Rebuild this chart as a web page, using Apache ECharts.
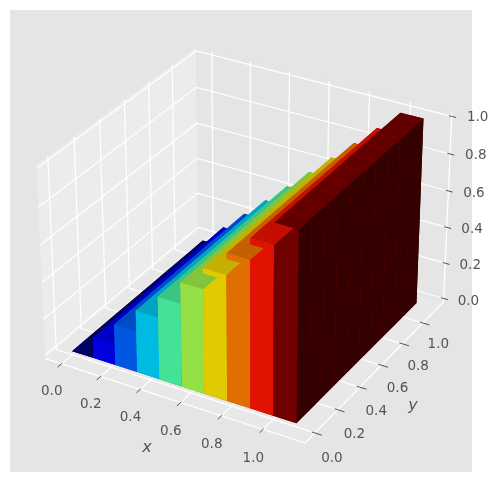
<!DOCTYPE html>
<html><head><meta charset="utf-8">
<style>html,body{margin:0;padding:0;background:#fff}#c{width:498px;height:482px}</style>
<script src="https://cdn.jsdelivr.net/npm/echarts@6/dist/echarts.min.js"></script>
</head><body><div id="c"></div>
<script>
// ---- data ----
const barX = [0, 0.111, 0.222, 0.333, 0.444, 0.556, 0.667, 0.778, 0.889, 1.0];
const barY = [0, 0.111, 0.222, 0.333, 0.444, 0.556, 0.667, 0.778, 0.889, 1.0];
const barHeights = [0, 0.112, 0.224, 0.336, 0.448, 0.561, 0.673, 0.785, 0.897, 1.01];
const barWidth = 0.111;
const barColors = [[0,0,128],[0,0,255],[0,99,255],[0,212,255],[78,255,170],[169,255,78],[255,230,0],[255,125,0],[255,20,0],[128,0,0]];
const xTicks = [0, 0.2, 0.4, 0.6, 0.8, 1.0];
const yTicks = [0, 0.2, 0.4, 0.6, 0.8, 1.0];
const zTicks = [0, 0.2, 0.4, 0.6, 0.8, 1.0];
const tickLabels = ['0.0', '0.2', '0.4', '0.6', '0.8', '1.0'];
// ---- view ----
const xLim = [-0.083, 1.199], yLim = [-0.085, 1.207], zLim = [-0.02, 1.02];
const box = [1.143, 1.143, 0.85];
const S = 2603, OX = 248, OY = 236, DIST = 10;
const EL = 30 * Math.PI / 180, AZ = -60 * Math.PI / 180;
const W = [Math.cos(EL)*Math.cos(AZ), Math.cos(EL)*Math.sin(AZ), Math.sin(EL)];
const U = [-Math.sin(AZ), Math.cos(AZ), 0];
const V = [W[1]*U[2]-W[2]*U[1], W[2]*U[0]-W[0]*U[2], W[0]*U[1]-W[1]*U[0]];
const dot = (a, b) => a[0]*b[0] + a[1]*b[1] + a[2]*b[2];
function view(p) {
  const q = [
    ((p[0]-xLim[0])/(xLim[1]-xLim[0]) - 0.5) * box[0],
    ((p[1]-yLim[0])/(yLim[1]-yLim[0]) - 0.5) * box[1],
    ((p[2]-zLim[0])/(zLim[1]-zLim[0]) - 0.5) * box[2]
  ];
  const d = DIST - dot(q, W);
  return { x: OX + S*dot(q, U)/d, y: OY - S*dot(q, V)/d, tz: -DIST/d };
}
const pt = p => { const v = view(p); return [v.x, v.y]; };
// ---- faces: bottom, top, -y, +y, -x, +x with matplotlib-like shading ----
const faceShade = [0.533, 0.767, 0.883, 0.417, 0.883, 0.417];
function faceVerts(i, j, f) {
  const x0 = barX[i], x1 = x0 + barWidth, y0 = barY[j], y1 = y0 + barWidth, h = barHeights[i];
  return [
    [[x0,y0,0],[x1,y0,0],[x1,y1,0],[x0,y1,0]],
    [[x0,y0,h],[x1,y0,h],[x1,y1,h],[x0,y1,h]],
    [[x0,y0,0],[x1,y0,0],[x1,y0,h],[x0,y0,h]],
    [[x0,y1,0],[x1,y1,0],[x1,y1,h],[x0,y1,h]],
    [[x0,y0,0],[x0,y1,0],[x0,y1,h],[x0,y0,h]],
    [[x1,y0,0],[x1,y1,0],[x1,y1,h],[x1,y0,h]]
  ][f];
}
const faceRows = [];
barX.forEach((_, i) => barY.forEach((_, j) => { for (let f = 0; f < 6; f++) {
  const vs = faceVerts(i, j, f).map(view);
  faceRows.push({ value: [i, j, f], depth: vs.reduce((s, v) => s + v.tz, 0) / 4 });
}}));
faceRows.sort((a, b) => b.depth - a.depth);
const [x0, x1] = xLim, [y0, y1] = yLim, [z0, z1] = zLim;
const panes = [
  { pts: [[x0,y0,z0],[x1,y0,z0],[x1,y1,z0],[x0,y1,z0]], fill: '#E8E8E8' },
  { pts: [[x0,y0,z0],[x0,y1,z0],[x0,y1,z1],[x0,y0,z1]], fill: '#ECECEC' },
  { pts: [[x0,y1,z0],[x1,y1,z0],[x1,y1,z1],[x0,y1,z1]], fill: '#E5E5E5' }
];
// line rows: polyline vertices + colour kind
const lines = [];
xTicks.forEach(t => lines.push({ pts: [[t,y0,z0],[t,y1,z0],[t,y1,z1]], k: 0 }));
yTicks.forEach(t => lines.push({ pts: [[x1,t,z0],[x0,t,z0],[x0,t,z1]], k: 0 }));
zTicks.forEach(t => lines.push({ pts: [[x0,y0,t],[x0,y1,t],[x1,y1,t]], k: 0 }));
lines.push({ pts: [[x0,y0,z0],[x1,y0,z0],[x1,y1,z0],[x1,y1,z1]], k: 0 });
xTicks.forEach(t => lines.push({ pts: [[t,y0+0.006,z0],[t,y0-0.03,z0]], k: 1 }));
yTicks.forEach(t => lines.push({ pts: [[x1-0.015,t,z0],[x1+0.032,t,z0]], k: 1 }));
zTicks.forEach(t => lines.push({ pts: [[x1-0.013,y1,t],[x1+0.021,y1,t]], k: 1 }));
const labels = [];
xTicks.forEach((t, i) => { const p = pt([t,y0,z0]); labels.push({ x: p[0]-9.7, y: p[1]+27.9+1.3*t, s: tickLabels[i], fs: 13.5 }); });
yTicks.forEach((t, i) => { const p = pt([x1,t,z0]); labels.push({ x: p[0]+17-1.6*t, y: p[1]+25.6-3.6*t, s: tickLabels[i], fs: 13.5 }); });
zTicks.forEach((t, i) => { const p = pt([x1,y1,t]); labels.push({ x: p[0]+24.8+1.2*t, y: p[1]+2.8-1.3*t, s: tickLabels[i], fs: 13.5 }); });
labels.push({ x: 147, y: 448, s: 'x', fs: 16, it: true });
labels.push({ x: 413, y: 406, s: 'y', fs: 16, it: true });

const polyItem = (pts, fill) => ({ type: 'polygon', shape: { points: pts }, style: { fill, stroke: null } });
const chart = echarts.init(document.getElementById('c'), null, { renderer: 'canvas' });
chart.setOption({
  animation: false,
  backgroundColor: '#ffffff',
  grid: { show: true, left: 10, top: 10, width: 462, height: 462, backgroundColor: '#E5E5E5', borderWidth: 0 },
  xAxis: { show: false }, yAxis: { show: false },
  series: [
    { type: 'custom', coordinateSystem: 'none', silent: true, z: 1, data: panes.map((_, i) => [i]),
      renderItem: (p, api) => { const d = panes[api.value(0)]; return polyItem(d.pts.map(pt), d.fill); } },
    { type: 'custom', coordinateSystem: 'none', silent: true, z: 2, data: lines.map((_, i) => [i]),
      renderItem: (p, api) => { const d = lines[api.value(0)];
        return { type: 'polyline', shape: { points: d.pts.map(pt) },
          style: { fill: null, stroke: d.k ? '#555555' : '#FFFFFF', lineWidth: d.k ? 1 : 1.25 } }; } },
    { type: 'custom', coordinateSystem: 'none', silent: true, z: 3, data: faceRows,
      renderItem: (p, api) => {
        const i = api.value(0), j = api.value(1), f = api.value(2), c = barColors[i], s = faceShade[f];
        return polyItem(faceVerts(i, j, f).map(pt), `rgb(${c.map(v => Math.round(v*s)).join(',')})`);
      } },
    { type: 'custom', coordinateSystem: 'none', silent: true, z: 4, data: labels.map((_, i) => [i]),
      renderItem: (p, api) => { const d = labels[api.value(0)];
        return { type: 'text', style: { x: d.x, y: d.y, text: d.s, fill: '#555555', align: 'center', verticalAlign: 'middle',
          font: `${d.it ? 'italic ' : ''}${d.fs}px "DejaVu Sans"` } }; } }
  ]
});
</script></body></html>
